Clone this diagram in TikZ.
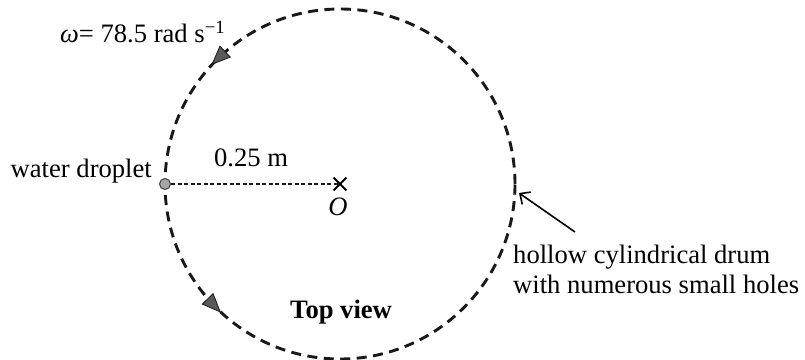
\documentclass[tikz,border=0pt]{standalone}
\usepackage{fontspec}
\setmainfont{Liberation Serif}
\usetikzlibrary{arrows.meta,decorations.markings,shapes.misc}
\begin{document}
\begin{tikzpicture}[x=1pt,y=1pt,
  lbl/.style={font=\fontsize{26.6}{30}\selectfont, inner sep=0pt},
  drum/.style={draw=black!90, line width=2.9pt, dash pattern=on 10pt off 6.5pt},
  radiusline/.style={draw=black!90, line width=1.7pt, dash pattern=on 4pt off 2.5pt},
  dirtip/.style={fill=black!65, draw=black!90, solid, line width=0.8pt},
  pointer/.style={draw=black, line width=1.6pt, -{Straight Barb[length=8pt,width=15pt,line width=1.6pt]}}]
\useasboundingbox (0,0) rectangle (805,359);
\coordinate (C) at (340,175);
\draw[drum, postaction={decorate},
  decoration={markings,
    mark=at position 0.372 with {\fill[dirtip] (9,0) -- (-9,7.5) -- (-9,-7.5) -- cycle;},
    mark=at position 0.622 with {\fill[dirtip] (9,0) -- (-9,7.5) -- (-9,-7.5) -- cycle;}}]
  (C) circle[radius=175];
\node[cross out, draw=black, line width=1.8pt, minimum size=11pt, inner sep=0pt] (O) at (C) {};
\node[circle, fill=black!35, draw=black!75, line width=1pt, minimum size=11pt, inner sep=0pt] (drop) at (165,175) {};
\draw[radiusline] (drop.east) -- (O.center);
\node[lbl, anchor=base] (r) at (251,192) {0.25 m};
\node[lbl, anchor=base] (Olbl) at (338,143) {\itshape O};
\node[lbl, anchor=base east] (wd) at (152,181) {water droplet};
\node[lbl, anchor=base west] (w) at (60,316) {{\itshape ω}= 78.5 rad s\textsuperscript{−1}};
\node[lbl, anchor=base west, font=\fontsize{26.6}{30}\selectfont\bfseries] (tv) at (290,41) {Top view};
\node[lbl, anchor=base west] (h1) at (513,96) {hollow cylindrical drum};
\node[lbl, anchor=base west] (h2) at (513,66) {with numerous small holes};
\coordinate (tail) at (575,127);
\coordinate (tip) at (519,166);
\draw[pointer] (tail) -- (tip);
\end{tikzpicture}
\end{document}
